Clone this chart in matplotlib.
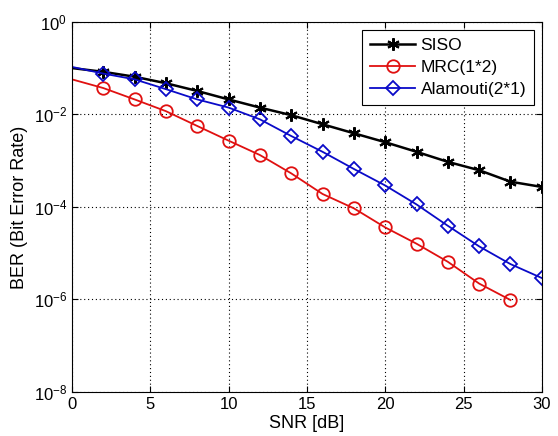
import matplotlib.pyplot as plt
import matplotlib.ticker as mticker

plt.rcParams["font.family"] = ["Liberation Sans", "DejaVu Sans"]
plt.rcParams["mathtext.fontset"] = "custom"
plt.rcParams["mathtext.rm"] = "Liberation Sans"
plt.rcParams["mathtext.it"] = "Liberation Sans"
plt.rcParams["mathtext.bf"] = "Liberation Sans:bold"

snr = [0, 2, 4, 6, 8, 10, 12, 14, 16, 18, 20, 22, 24, 26, 28, 30]
ber_siso = [0.10, 0.083, 0.065, 0.047, 0.032, 0.021, 0.014, 0.0096, 0.0061,
            0.0039, 0.0025, 0.00155, 0.00094, 0.00062, 0.00035, 0.00027]
snr_mrc = snr[:-1]
ber_mrc = [0.057, 0.037, 0.021, 0.0117, 0.0056, 0.0027, 0.00132, 0.00053,
           0.00019, 9.3e-5, 3.6e-5, 1.6e-5, 6.5e-6, 2.2e-6, 9.7e-7]
ber_alamouti = [0.106, 0.076, 0.057, 0.035, 0.021, 0.014, 0.0078, 0.0034,
                0.00155, 0.00066, 0.00029, 0.000113, 3.9e-5, 1.4e-5, 5.8e-6, 2.9e-6]

fig = plt.figure(figsize=(5.58, 4.36), dpi=100)
ax = fig.add_axes([0.129, 0.101, 0.842, 0.849])

# matlab-style asterisk marker
ax.semilogy(snr, ber_siso, "-", marker=(6, 2, 0), color="black", lw=1.8, ms=9,
            mew=1.5, markevery=slice(1, None), label="SISO")
ax.semilogy(snr_mrc, ber_mrc, "-o", color="#e01010", lw=1.3, ms=9,
            mfc="none", mew=1.3, markevery=slice(1, None), label="MRC(1*2)")
ax.semilogy(snr, ber_alamouti, "-D", color="#0a0ac8", lw=1.3, ms=7,
            mfc="none", mew=1.3, markevery=slice(1, None), label="Alamouti(2*1)")

ax.set_xlim(0, 30)
ax.set_ylim(1e-8, 1)
ax.set_yticks([1, 1e-2, 1e-4, 1e-6, 1e-8])
ax.yaxis.set_minor_locator(mticker.NullLocator())
ax.set_xticks([0, 5, 10, 15, 20, 25, 30])
ax.tick_params(direction="in", labelsize=12, length=4, top=True, right=True)
ax.grid(True, which="major", ls=(0, (1, 2.5)), color="black", lw=0.8)

ax.set_xlabel("SNR [dB]", fontsize=13, labelpad=2)
ax.set_ylabel("BER (Bit Error Rate)", fontsize=13, labelpad=4)

leg = ax.legend(loc="upper right", fontsize=12.5, fancybox=False, framealpha=1,
                edgecolor="black", handlelength=2.6, labelspacing=0.42,
                borderaxespad=0.45, handletextpad=0.3, borderpad=0.45)
leg.get_frame().set_linewidth(0.8)

fig.savefig("out.png", dpi=100)
